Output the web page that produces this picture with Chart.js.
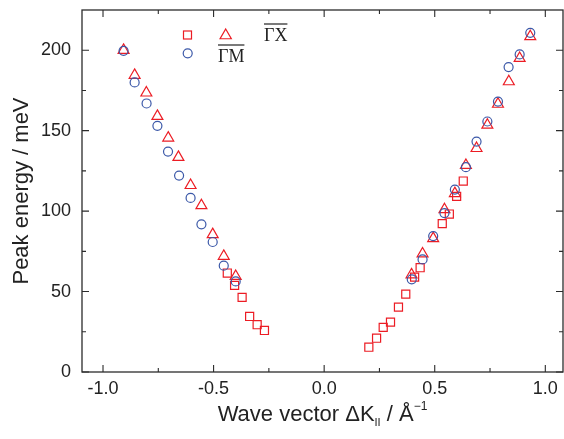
<!DOCTYPE html>
<html>
<head>
  <meta charset="UTF-8">
  <title>Peak energy vs wave vector</title>
  <script src="https://cdn.jsdelivr.net/npm/chart.js"></script>
  <style>
    body { margin: 0; background: #fff; }
    #wrap { width: 564px; height: 439px; position: relative; }
  </style>
</head>
<body>
  <div id="wrap"><canvas id="myChart"></canvas></div>

  <script>
    // squares (ΓX, set 1)
    const sqX = [-0.438, -0.405, -0.371, -0.337, -0.303, -0.270,
                 0.202, 0.237, 0.267, 0.300, 0.336, 0.369, 0.409, 0.434, 0.534, 0.566, 0.599, 0.629];
    const sqY = [61.5, 53.8, 46.4, 34.5, 29.4, 25.8,
                 15.4, 21.0, 27.7, 31.0, 40.3, 48.4, 59.0, 64.8, 92.2, 98.2, 109.2, 118.7];
    // triangles (ΓX, set 2)
    const triX = [-0.907, -0.857, -0.804, -0.754, -0.705, -0.659, -0.604, -0.555, -0.504, -0.454, -0.400,
                  0.395, 0.445, 0.493, 0.544, 0.591, 0.641, 0.689, 0.738, 0.786, 0.835, 0.884, 0.932];
    const triY = [200, 184.5, 173.5, 159, 145.5, 133.5, 116, 103.5, 85.5, 72, 59.5,
                  60.5, 73.5, 83, 101, 111, 128.5, 139, 153.5, 166.5, 180.5, 195, 208.5];
    // circles (ΓM)
    const cirX = [-0.907, -0.857, -0.803, -0.754, -0.706, -0.656, -0.604, -0.555, -0.504, -0.454, -0.400,
                  0.396, 0.445, 0.493, 0.544, 0.591, 0.641, 0.689, 0.738, 0.786, 0.834, 0.884, 0.932];
    const cirY = [199.6, 180.0, 166.9, 153.0, 137.0, 122.1, 108.2, 91.8, 80.8, 66.1, 56.3,
                  57.6, 70.0, 84.5, 98.8, 113.4, 127.3, 143.2, 155.7, 168.1, 189.5, 197.4, 210.8];

    const xTicks = [-1.0, -0.5, 0.0, 0.5, 1.0];
    const xMinor = [-0.75, -0.25, 0.25, 0.75];
    const yTicks = [0, 50, 100, 150, 200];
    const yMinor = [25, 75, 125, 175];

    const RED = '#ec1c24';
    const BLUE = '#3b58a8';
    const AXIS = '#2b2b2b';

    const toPts = (xs, ys) => xs.map((x, i) => ({ x: x, y: ys[i] }));

    // box frame with inward ticks on all four sides
    const framePlugin = {
      id: 'frame',
      afterDraw(chart) {
        const { ctx, chartArea: a, scales } = chart;
        ctx.save();
        ctx.strokeStyle = AXIS;
        ctx.lineWidth = 1.3;
        ctx.strokeRect(a.left, a.top, a.right - a.left, a.bottom - a.top);
        ctx.lineWidth = 1.1;
        const tick = (vals, len, isX) => {
          vals.forEach(v => {
            ctx.beginPath();
            if (isX) {
              const px = scales.x.getPixelForValue(v);
              ctx.moveTo(px, a.bottom); ctx.lineTo(px, a.bottom - len);
              ctx.moveTo(px, a.top); ctx.lineTo(px, a.top + len);
            } else {
              const py = scales.y.getPixelForValue(v);
              ctx.moveTo(a.left, py); ctx.lineTo(a.left + len, py);
              ctx.moveTo(a.right, py); ctx.lineTo(a.right - len, py);
            }
            ctx.stroke();
          });
        };
        tick(xTicks, 7, true);
        tick(xMinor, 4, true);
        tick(yTicks, 7, false);
        tick(yMinor, 4, false);

        // x axis title with sub/superscript
        const cx = (a.left + a.right) / 2;
        const base = 421;
        ctx.fillStyle = '#222';
        ctx.textBaseline = 'alphabetic';
        const parts = [
          { t: 'Wave vector ΔK', f: '22px "Liberation Sans"', dy: 0 },
          { t: 'II', f: '11px "Liberation Sans"', dy: 5 },
          { t: ' / Å', f: '22px "Liberation Sans"', dy: 0 },
          { t: '−1', f: '12px "Liberation Sans"', dy: -11 }
        ];
        let total = 0;
        parts.forEach(p => { ctx.font = p.f; p.w = ctx.measureText(p.t).width; total += p.w; });
        let x = cx - total / 2;
        parts.forEach(p => { ctx.font = p.f; ctx.fillText(p.t, x, base + p.dy); x += p.w; });

        // legend
        ctx.lineWidth = 1.2;
        ctx.strokeStyle = RED;
        ctx.strokeRect(183.5, 31, 8, 8);
        ctx.beginPath();
        const tr = 6.5, tx = 225.7, ty = 35.5;
        ctx.moveTo(tx, ty - tr);
        ctx.lineTo(tx + tr * 0.866, ty + tr / 2);
        ctx.lineTo(tx - tr * 0.866, ty + tr / 2);
        ctx.closePath();
        ctx.stroke();
        ctx.strokeStyle = BLUE;
        ctx.beginPath();
        ctx.arc(187.7, 53.3, 4.5, 0, Math.PI * 2);
        ctx.stroke();

        ctx.fillStyle = '#222';
        ctx.font = '18px "Liberation Serif"';
        const lab = (t, lx, by, bar) => {
          ctx.fillText(t, lx, by);
          const w = ctx.measureText(t).width;
          ctx.strokeStyle = '#222';
          ctx.lineWidth = 1.2;
          ctx.beginPath();
          ctx.moveTo(lx, bar); ctx.lineTo(lx + w, bar);
          ctx.stroke();
        };
        lab('ΓX', 264, 41, 24);
        lab('ΓM', 218, 62, 45);
        ctx.restore();
      }
    };

    const noPad = s => { s.paddingLeft = 0; s.paddingRight = 0; s.paddingTop = 0; s.paddingBottom = 0; };

    const ctx = document.getElementById('myChart').getContext('2d');
    const myChart = new Chart(ctx, {
      type: 'scatter',
      data: {
        datasets: [
          {
            label: 'ΓM',
            data: toPts(cirX, cirY),
            pointStyle: 'circle',
            pointRadius: 4.5,
            borderColor: BLUE,
            backgroundColor: 'rgba(0,0,0,0)',
            borderWidth: 1.2
          },
          {
            label: 'ΓX triangles',
            data: toPts(triX, triY),
            pointStyle: 'triangle',
            pointRadius: 6.3,
            borderColor: RED,
            backgroundColor: 'rgba(0,0,0,0)',
            borderWidth: 1.2
          },
          {
            label: 'ΓX squares',
            data: toPts(sqX, sqY),
            pointStyle: 'rect',
            pointRadius: 5.7,
            borderColor: RED,
            backgroundColor: 'rgba(0,0,0,0)',
            borderWidth: 1.2
          }
        ]
      },
      options: {
        responsive: true,
        maintainAspectRatio: false,
        animation: false,
        layout: { autoPadding: false, padding: { top: 10, right: 1, left: 0, bottom: 0 } },
        plugins: {
          legend: { display: false },
          tooltip: { enabled: false }
        },
        scales: {
          x: {
            type: 'linear',
            min: -1.095,
            max: 1.08,
            afterBuildTicks: s => { s.ticks = xTicks.map(v => ({ value: v })); },
            afterFit: s => { s.height = 67; noPad(s); },
            grid: { display: false, drawTicks: false },
            border: { display: false },
            ticks: {
              color: '#222',
              font: { family: 'Liberation Sans', size: 18 },
              padding: 6,
              maxRotation: 0,
              autoSkip: false,
              callback: v => Number(v).toFixed(1)
            }
          },
          y: {
            type: 'linear',
            min: 0,
            max: 225,
            afterBuildTicks: s => { s.ticks = yTicks.map(v => ({ value: v })); },
            afterFit: s => { s.width = 82; noPad(s); },
            grid: { display: false, drawTicks: false },
            border: { display: false },
            ticks: {
              color: '#222',
              font: { family: 'Liberation Sans', size: 18 },
              padding: 11,
              autoSkip: false
            },
            title: {
              display: true,
              text: 'Peak energy / meV',
              color: '#222',
              font: { family: 'Liberation Sans', size: 22 },
              padding: { top: 9, bottom: 0 }
            }
          }
        }
      },
      plugins: [framePlugin]
    });
  </script>
</body>
</html>
